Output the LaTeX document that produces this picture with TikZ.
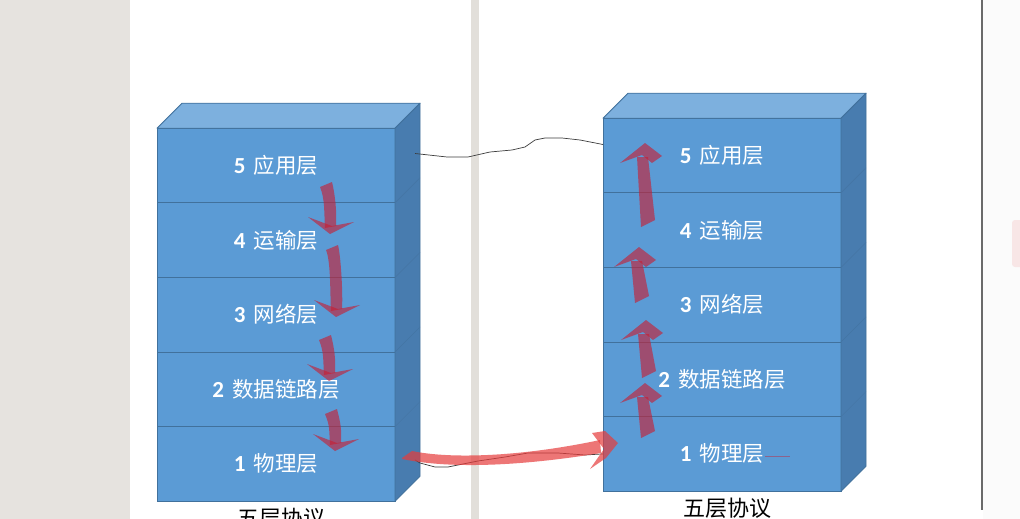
\documentclass[tikz,border=0pt]{standalone}
\usepackage{fontspec}
\setmainfont{Noto Sans CJK SC}
\newfontfamily\numfont{Carlito}
\usetikzlibrary{positioning}

\definecolor{facefront}{RGB}{91,155,213}
\definecolor{facetop}{RGB}{125,176,222}
\definecolor{faceside}{RGB}{72,124,175}
\definecolor{edgeblue}{RGB}{65,113,156}
\definecolor{panegray}{RGB}{230,227,223}
\definecolor{splitgray}{RGB}{226,223,218}
\definecolor{framegray}{RGB}{106,106,106}
\definecolor{offwhite}{RGB}{251,251,251}
\definecolor{pinkish}{RGB}{248,230,230}
\definecolor{darkred}{RGB}{200,30,50}
\definecolor{lightred}{RGB}{230,60,60}
\definecolor{wiregray}{RGB}{60,60,60}

\newcommand{\lnum}[1]{{\numfont\bfseries\fontsize{23}{24}\selectfont #1}\hspace{8pt}}

\begin{document}
\begin{tikzpicture}[x=1pt,y=-1pt,
    lyr/.style={rectangle,fill=facefront,draw=edgeblue,line width=0.8pt,
                minimum width=238pt,minimum height=74.6pt,inner sep=0pt,outer sep=0pt,
                text=white,font=\fontsize{21.5}{24}\selectfont},
    topface/.style={fill=facetop,draw=edgeblue,line width=0.8pt,line join=round},
    sideface/.style={fill=faceside,draw=edgeblue,line width=0.8pt,line join=round},
    seam/.style={draw=edgeblue!60!faceside,line width=0.5pt},
    redband/.style={fill=darkred,fill opacity=0.62},
    wire/.style={draw=wiregray,line width=0.7pt,line join=round},
    bigarrow/.style={fill=lightred,fill opacity=0.7},
    caption/.style={font=\fontsize{22}{26}\selectfont,inner sep=0pt}]

    \useasboundingbox (0,0) rectangle (1020,519);

    % page background
    \fill[white] (0,0) rectangle (1020,519);
    \fill[panegray] (0,0) rectangle (130,519);
    \fill[splitgray] (471,0) rectangle (479,519);
    \fill[offwhite] (983,0) rectangle (1020,519);
    \fill[framegray] (981,0) rectangle (983,510);
    \fill[pinkish,rounded corners=3pt] (1012,220) rectangle (1032,267);

    % left stack
    \node[lyr] (L5) at (276,165.5) {\lnum{5}应用层};
    \node[lyr] (L4) [below=0pt of L5] {\lnum{4}运输层};
    \node[lyr] (L3) [below=0pt of L4] {\lnum{3}网络层};
    \node[lyr] (L2) [below=0pt of L3] {\lnum{2}数据链路层};
    \node[lyr] (L1) [below=0pt of L2] {\lnum{1}物理层};

    % right stack
    \node[lyr] (R5) at (722,155.5) {\lnum{5}应用层};
    \node[lyr] (R4) [below=0pt of R5] {\lnum{4}运输层};
    \node[lyr] (R3) [below=0pt of R4] {\lnum{3}网络层};
    \node[lyr] (R2) [below=0pt of R3] {\lnum{2}数据链路层};
    \node[lyr] (R1) [below=0pt of R2] {\lnum{1}物理层};

    % 3d faces
    \foreach \s in {L,R} {
        \draw[topface] (\s5.north west) -- ++(25,-25) -- ([shift={(25,-25)}]\s5.north east)
            -- (\s5.north east) -- cycle;
        \draw[sideface] (\s5.north east) -- ++(25,-25) -- ([shift={(25,-25)}]\s1.south east)
            -- (\s1.south east) -- cycle;
        \foreach \n in {5,4,3,2}
            \draw[seam] (\s\n.south east) -- ++(25,-25);
    }

    \node[caption] (capL) [below=7pt of L1, xshift=5pt] {五层协议};
    \node[caption] (capR) [below=7pt of R1, xshift=5pt] {五层协议};

    % hand drawn wires
    \draw[wire] ([xshift=20pt,yshift=12pt]L5.east) -- (447,157) -- (468,157) -- (490,152)
        -- (512,150) -- (525,147) -- (535,140) -- (545,138) -- (562,138) -- (580,140)
        -- ([yshift=11pt]R5.west);
    \draw[wire] ([xshift=20pt,yshift=4pt]L1.east) -- (420,463) -- (435,467) -- (448,467)
        -- (478,461) -- (505,457) -- (528,453) -- (558,453) -- (585,455) -- (R1.west);

    % bent arrows going down
    \foreach \x/\y/\h in {326/184/50, 332/247/70, 325/337/44, 331/411/40} {
        \begin{scope}[shift={(\x,\y)}]
            \fill[redband] (-6,3) .. controls (-1,15) and (-2,\h-22) .. (-1,\h-6)
                -- (10,\h-8) .. controls (11,\h-22) and (9,10) .. (6,-2) -- cycle;
            \fill[redband] (-18,\h-17) -- (4,\h) -- (28,\h-12) -- (6,\h-8) -- cycle;
        \end{scope}
    }

    % bent arrows going up
    \foreach \x/\y/\h in {648/224/81, 642/300/53, 649/375/55, 648/435/52} {
        \begin{scope}[shift={(\x,\y)}]
            \fill[redband] (-7,3) -- (7,-4) -- (0,-\h+14) -- (-11,-\h+14) -- cycle;
            \fill[redband] (-28,-\h+20) -- (-3,-\h) -- (14,-\h+13) -- (4,-\h+20)
                -- (-6,-\h+12) -- cycle;
        \end{scope}
    }

    % big arrow between the physical layers
    \fill[bigarrow] (402,458) -- (412,451) .. controls (450,459) and (520,457) .. (600,440)
        -- (601,453) .. controls (540,463) and (460,471) .. (402,459) -- cycle;
    \fill[bigarrow] (592,433) -- (605,431) -- (618,443) -- (606,458) -- (590,469)
        -- (604,449) -- cycle;

    \draw[darkred!45!facefront,line width=0.5pt] ([xshift=43pt,yshift=-2.5pt]R1.center)
        -- ([xshift=68pt,yshift=-2.5pt]R1.center);
\end{tikzpicture}
\end{document}
